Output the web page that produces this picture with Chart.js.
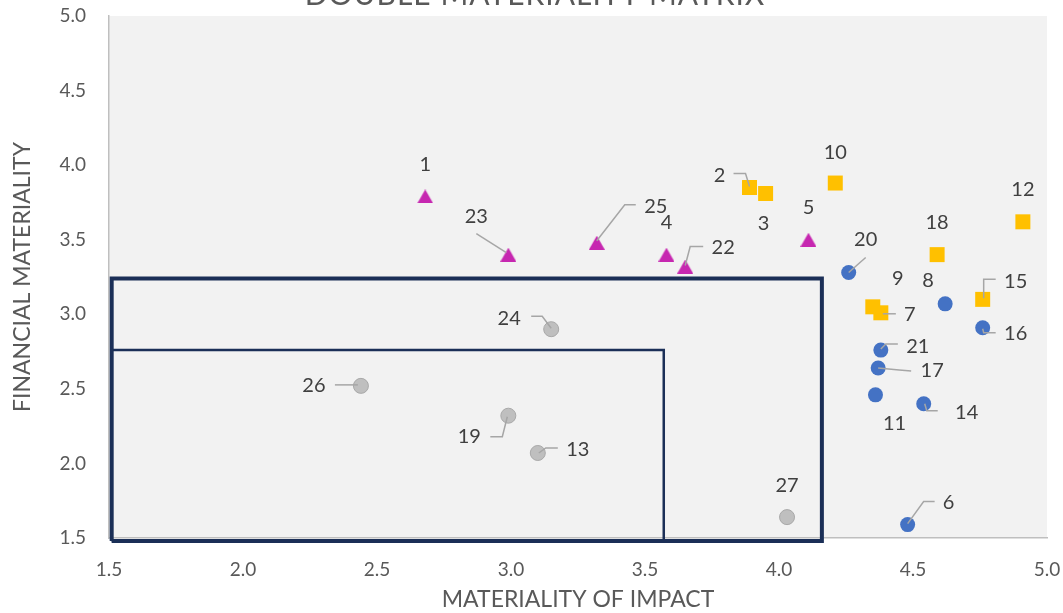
<!DOCTYPE html>
<html>
<head>
<meta charset="utf-8">
<script src="https://cdn.jsdelivr.net/npm/chart.js@4.4.1/dist/chart.umd.min.js"></script>
<style>
  html, body { margin: 0; padding: 0; background: #ffffff; }
  #wrap { width: 1063px; height: 613px; position: relative; }
  canvas { display: block; }
</style>
</head>
<body>
<div id="wrap"><canvas id="matrix" width="1063" height="613"></canvas></div>
<script>
// ---- Topic scores: x = materiality of impact, y = financial materiality ----
const triIds = ['1', '23', '25', '4', '22', '5'];
const triImpact = [2.68, 2.99, 3.32, 3.58, 3.65, 4.11];
const triFinancial = [3.79, 3.40, 3.48, 3.40, 3.32, 3.50];

const squareIds = ['2', '3', '10', '12', '18', '9', '7', '15'];
const squareImpact = [3.89, 3.95, 4.21, 4.91, 4.59, 4.35, 4.38, 4.76];
const squareFinancial = [3.85, 3.81, 3.88, 3.62, 3.40, 3.05, 3.01, 3.10];

const blueIds = ['20', '8', '16', '21', '17', '11', '14', '6'];
const blueImpact = [4.26, 4.62, 4.76, 4.38, 4.37, 4.36, 4.54, 4.48];
const blueFinancial = [3.28, 3.07, 2.91, 2.76, 2.64, 2.46, 2.40, 1.59];

const greyIds = ['24', '26', '19', '13', '27'];
const greyImpact = [3.15, 2.44, 2.99, 3.10, 4.03];
const greyFinancial = [2.90, 2.52, 2.32, 2.07, 1.64];

// Threshold zones (impact range, financial range)
const outerZoneImpact = [1.51, 4.16];
const outerZoneFinancial = [1.48, 3.24];
const innerZoneImpact = [1.51, 3.57];
const innerZoneFinancial = [1.48, 2.76];

// Axis range and tick step
const axisMin = 1.5;
const axisMax = 5.0;
const axisStep = 0.5;

// ---- Label placement (pixel offsets from each marker) ----
const labelPlacement = {
  '1':  { dx: 0, dy: -32 },
  '23': { dx: -32, dy: -38, leader: [[-32, -21], [-2, -2]] },
  '25': { dx: 59, dy: -36, leader: [[0, -2], [28, -38], [39, -38]] },
  '4':  { dx: 0, dy: -32 },
  '22': { dx: 38, dy: -19, leader: [[0, -1], [5, -20], [18, -20]] },
  '5':  { dx: 0, dy: -32 },
  '2':  { dx: -30, dy: -12, leader: [[-16, -14], [-4, -14], [0, -1]] },
  '3':  { dx: -2, dy: 30 },
  '10': { dx: 0, dy: -30 },
  '12': { dx: 0, dy: -32 },
  '18': { dx: 0, dy: -32 },
  '9':  { dx: 25, dy: -28 },
  '7':  { dx: 29, dy: 2, leader: [[2, 1], [15, 1]] },
  '15': { dx: 33, dy: -18, leader: [[1, -1], [1, -20], [13, -20]] },
  '20': { dx: 17, dy: -33, leader: [[0, 0], [17, -15]] },
  '8':  { dx: -17, dy: -23 },
  '16': { dx: 33, dy: 6, leader: [[0, 1], [1, 5], [13, 5]] },
  '21': { dx: 37, dy: -4, leader: [[0, -1], [5, -6], [17, -6]] },
  '17': { dx: 54, dy: 3, leader: [[0, 0], [21, 2], [33, 3]] },
  '11': { dx: 19, dy: 29 },
  '14': { dx: 43, dy: 9, leader: [[1, 0], [3, 7], [14, 7]] },
  '6':  { dx: 41, dy: -22, leader: [[0, -1], [16, -23], [27, -23]] },
  '24': { dx: -42, dy: -11, leader: [[-20, -13], [-9, -13], [0, -1]] },
  '26': { dx: -47, dy: 0, leader: [[-26, -1], [-3, -1]] },
  '19': { dx: -39, dy: 21, leader: [[-18, 21], [-6, 21], [-1, 1]] },
  '13': { dx: 40, dy: -3, leader: [[1, 0], [8, -5], [20, -5]] },
  '27': { dx: 0, dy: -32 }
};

const FONT = "Lato, 'Open Sans', 'DejaVu Sans', sans-serif";

function toPoints(xs, ys) {
  return xs.map((x, i) => ({ x: x, y: ys[i] }));
}

function zoneOutline(xr, yr) {
  return [
    { x: xr[0], y: yr[0] }, { x: xr[0], y: yr[1] },
    { x: xr[1], y: yr[1] }, { x: xr[1], y: yr[0] },
    { x: xr[0], y: yr[0] }
  ];
}

// Triangle marker drawn so its bounding box is centred on the point
function triangleMarker(color, w, h) {
  const c = document.createElement('canvas');
  c.width = w; c.height = h;
  const g = c.getContext('2d');
  g.fillStyle = color;
  g.beginPath();
  g.moveTo(w / 2, 0);
  g.lineTo(w, h);
  g.lineTo(0, h);
  g.closePath();
  g.fill();
  return c;
}

const plotBackground = {
  id: 'plotBackground',
  beforeDraw(chart) {
    const { ctx, chartArea: a } = chart;
    ctx.save();
    ctx.fillStyle = '#f2f2f2';
    ctx.fillRect(a.left, a.top, a.right - a.left, a.bottom - a.top);
    ctx.restore();
  }
};

const pointLabels = {
  id: 'pointLabels',
  afterDatasetsDraw(chart) {
    const ctx = chart.ctx;
    ctx.save();
    chart.data.datasets.forEach((ds, di) => {
      if (!ds.ids) return;
      const meta = chart.getDatasetMeta(di);
      meta.data.forEach((pt, i) => {
        const id = ds.ids[i];
        const place = labelPlacement[id];
        if (!place) return;
        const x = pt.x, y = pt.y;
        if (place.leader) {
          ctx.beginPath();
          place.leader.forEach(([dx, dy], k) => {
            if (k === 0) ctx.moveTo(x + dx, y + dy); else ctx.lineTo(x + dx, y + dy);
          });
          ctx.strokeStyle = '#a6a6a6';
          ctx.lineWidth = 1.5;
          ctx.stroke();
        }
        ctx.font = '20px ' + FONT;
        ctx.fillStyle = '#404040';
        ctx.textAlign = 'center';
        ctx.textBaseline = 'middle';
        ctx.fillText(id, x + place.dx, y + place.dy);
      });
    });
    ctx.restore();
  }
};

const chartHeading = {
  id: 'chartHeading',
  afterDraw(chart) {
    const ctx = chart.ctx;
    ctx.save();
    ctx.font = '30px ' + FONT;
    if ('letterSpacing' in ctx) ctx.letterSpacing = '1px';
    ctx.fillStyle = '#595959';
    ctx.textAlign = 'center';
    ctx.textBaseline = 'alphabetic';
    ctx.fillText('DOUBLE MATERIALITY MATRIX', 535, 5);
    ctx.restore();
  }
};

const zoneStyle = {
  type: 'scatter',
  showLine: true,
  fill: false,
  pointRadius: 0,
  borderColor: '#1b2f57',
  clip: false,
  order: 10
};

new Chart(document.getElementById('matrix'), {
  type: 'scatter',
  data: {
    datasets: [
      Object.assign({}, zoneStyle, { data: zoneOutline(outerZoneImpact, outerZoneFinancial), borderWidth: 4 }),
      Object.assign({}, zoneStyle, { data: zoneOutline(innerZoneImpact, innerZoneFinancial), borderWidth: 2.5 }),
      {
        ids: greyIds,
        data: toPoints(greyImpact, greyFinancial),
        pointStyle: 'circle',
        pointRadius: 7.5,
        backgroundColor: '#bfbfbf',
        borderColor: '#a9a9a9',
        pointBorderWidth: 1,
        order: 1
      },
      {
        ids: blueIds,
        data: toPoints(blueImpact, blueFinancial),
        pointStyle: 'circle',
        pointRadius: 7.5,
        backgroundColor: '#4472c4',
        borderColor: '#4472c4',
        pointBorderWidth: 0,
        order: 1
      },
      {
        ids: squareIds,
        data: toPoints(squareImpact, squareFinancial),
        pointStyle: 'rect',
        pointRadius: 10.6,
        backgroundColor: '#ffc000',
        borderColor: '#ffc000',
        pointBorderWidth: 0,
        order: 1
      },
      {
        ids: triIds,
        data: toPoints(triImpact, triFinancial),
        pointStyle: triangleMarker('#c627b0', 16, 14),
        pointRadius: 8,
        backgroundColor: '#c627b0',
        borderColor: '#c627b0',
        pointBorderWidth: 0,
        order: 1
      }
    ]
  },
  options: {
    responsive: false,
    animation: false,
    events: [],
    devicePixelRatio: 1,
    layout: { padding: { left: 0, right: 16, top: 16, bottom: 0 } },
    plugins: {
      legend: { display: false },
      tooltip: { enabled: false },
      title: { display: false }
    },
    scales: {
      x: {
        type: 'linear',
        min: axisMin,
        max: axisMax,
        ticks: {
          stepSize: axisStep,
          callback: v => v.toFixed(1),
          font: { family: FONT, size: 19 },
          color: '#595959',
          padding: 20,
          maxRotation: 0
        },
        grid: { display: false, drawTicks: false },
        border: { display: true, color: '#bfbfbf', width: 1.5 },
        title: {
          display: true,
          text: 'MATERIALITY OF IMPACT',
          font: { family: FONT, size: 23 },
          color: '#595959',
          padding: { top: 0, bottom: 0 }
        },
        afterFit(scale) {
          scale.height = 75;
          scale.paddingLeft = 0;
          scale.paddingRight = 0;
        }
      },
      y: {
        type: 'linear',
        min: axisMin,
        max: axisMax,
        ticks: {
          stepSize: axisStep,
          callback: v => v.toFixed(1),
          font: { family: FONT, size: 19 },
          color: '#595959',
          padding: 23
        },
        grid: { display: false, drawTicks: false },
        border: { display: true, color: '#bfbfbf', width: 1.5 },
        title: {
          display: true,
          text: 'FINANCIAL MATERIALITY',
          font: { family: FONT, size: 23 },
          color: '#595959',
          padding: { top: 9, bottom: 0 }
        },
        afterFit(scale) {
          scale.width = 109;
          scale.paddingTop = 0;
          scale.paddingBottom = 0;
        }
      }
    }
  },
  plugins: [plotBackground, pointLabels, chartHeading]
});
</script>
</body>
</html>
